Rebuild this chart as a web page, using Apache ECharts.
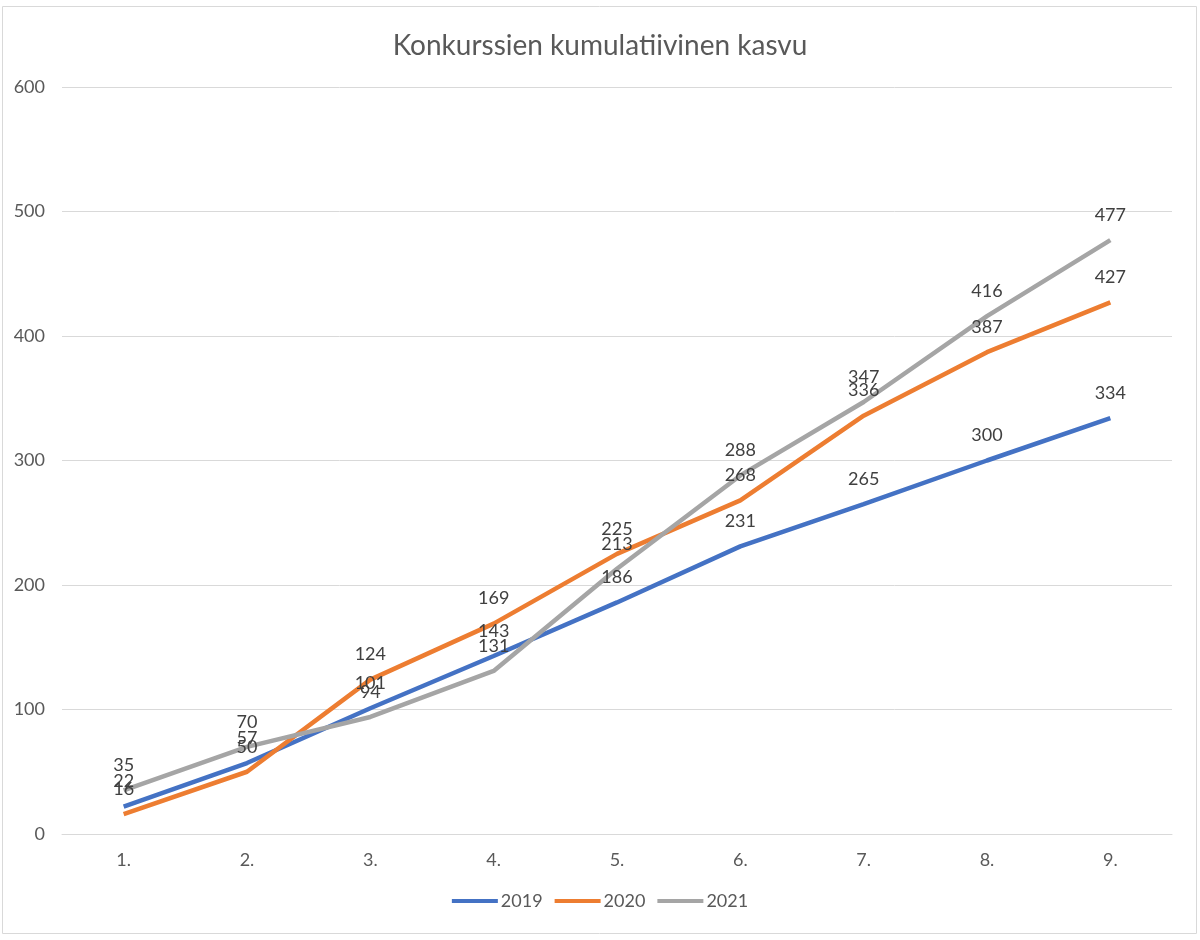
<!DOCTYPE html>
<html>
<head>
<meta charset="utf-8">
<title>Konkurssien kumulatiivinen kasvu</title>
<script src="https://cdn.jsdelivr.net/npm/echarts@6/dist/echarts.min.js"></script>
<style>
  html, body { margin: 0; padding: 0; background: #fff; }
  #line { width: 1200px; height: 940px; }
</style>
</head>
<body>
<div id="line"></div>
<script>
// kategoriat ja sarjat
var categories = ['1.', '2.', '3.', '4.', '5.', '6.', '7.', '8.', '9.'];
var data2019 = [22, 57, 101, 143, 186, 231, 265, 300, 334];
var data2020 = [16, 50, 124, 169, 225, 268, 336, 387, 427];
var data2021 = [35, 70, 94, 131, 213, 288, 347, 416, 477];

var myChart = echarts.init(document.getElementById('line'));

function makeSeries(name, data, color) {
    return {
        name: name,
        type: 'line',
        data: data,
        symbol: 'circle',
        symbolSize: 0.1,
        showSymbol: true,
        smooth: false,
        lineStyle: { width: 4.5, color: color },
        itemStyle: { color: color },
        label: {
            show: true,
            position: 'top',
            distance: 16,
            color: '#404040',
            fontSize: 18,
            fontFamily: 'Lato'
        },
        labelLayout: { hideOverlap: false }
    };
}

var option = {
    animation: false,
    textStyle: { fontFamily: 'Lato' },
    title: {
        text: 'Konkurssien kumulatiivinen kasvu',
        left: 'center',
        top: 27,
        textStyle: { color: '#595959', fontSize: 28, fontWeight: 'normal', fontFamily: 'Lato' }
    },
    graphic: [{
        type: 'rect',
        shape: { x: 2.5, y: 6.5, width: 1194, height: 927 },
        style: { fill: 'none', stroke: '#d9d9d9', lineWidth: 1 },
        silent: true
    }],
    legend: {
        bottom: 25,
        left: 'center',
        icon: 'rect',
        itemWidth: 46,
        itemHeight: 4,
        itemGap: 12,
        textStyle: { color: '#595959', fontSize: 18, fontFamily: 'Lato', padding: [0, 0, 0, -2] },
        data: ['2019', '2020', '2021']
    },
    grid: {
        left: 62,
        right: 28,
        top: 87,
        bottom: 106,
        containLabel: false
    },
    xAxis: {
        type: 'category',
        data: categories,
        boundaryGap: true,
        axisLine: { lineStyle: { color: '#d9d9d9', width: 1 } },
        axisTick: { show: false },
        axisLabel: { color: '#595959', fontSize: 18, margin: 17 }
    },
    yAxis: {
        type: 'value',
        min: 0,
        max: 600,
        interval: 100,
        axisLine: { show: false },
        axisTick: { show: false },
        axisLabel: { color: '#595959', fontSize: 18, margin: 17 },
        splitLine: { lineStyle: { color: '#d9d9d9', width: 1 } }
    },
    series: [
        makeSeries('2019', data2019, '#4472C4'),
        makeSeries('2020', data2020, '#ED7D31'),
        makeSeries('2021', data2021, '#A5A5A5')
    ]
};

myChart.setOption(option);
</script>
</body>
</html>
